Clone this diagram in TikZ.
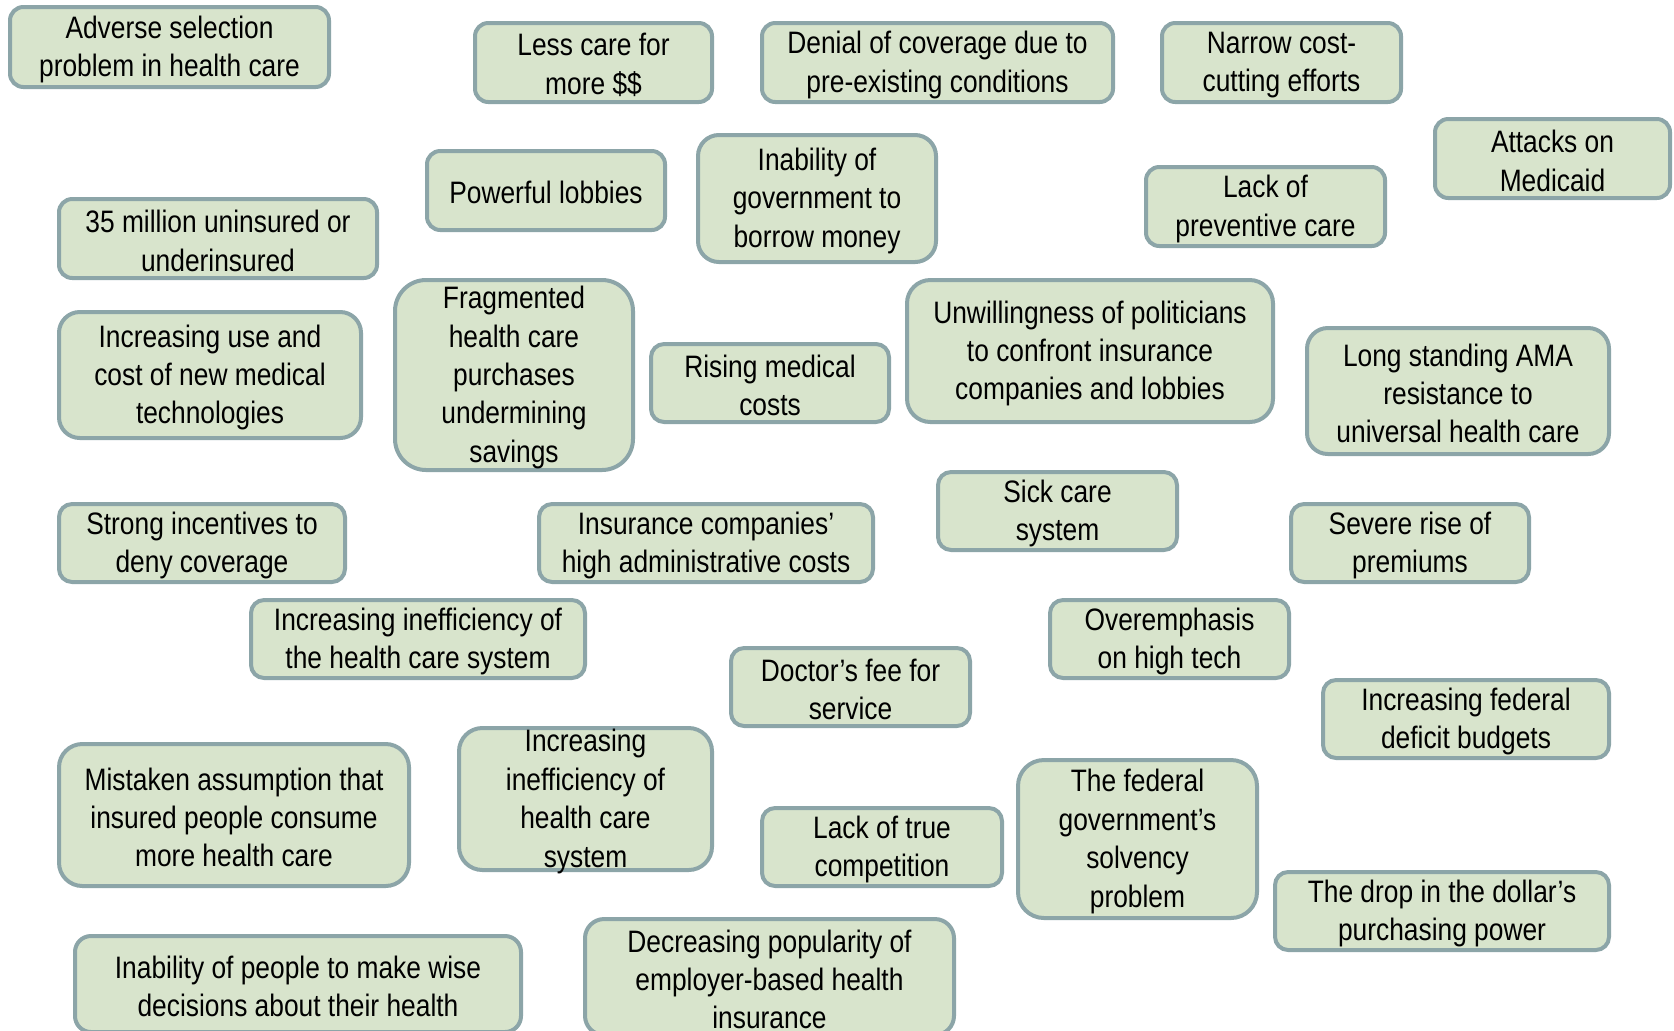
\documentclass[tikz,border=0pt]{standalone}
\usepackage{fontspec}
\setmainfont{Liberation Sans}[FakeStretch=0.85]
\definecolor{boxfill}{RGB}{216,228,204}
\definecolor{boxline}{RGB}{140,165,168}
\tikzset{
  issuebox/.style={draw=boxline, fill=boxfill, line width=2pt, inner sep=0pt},
  issuetext/.style={align=center, inner sep=0pt, text=black,
    font=\fontsize{15.5pt}{19.2pt}\selectfont}
}
% \issue{name}{left}{top}{right}{bottom}{text}  -- outer edges in px
\newcommand\issue[6]{%
  \node[issuebox,
        minimum width={(#4-#2-4)*0.5pt},
        minimum height={(#5-#3-4)*0.5pt},
        rounded corners={0.08*min(#4-#2,#5-#3)*1pt}]
        (#1) at ({(#2+#4)/2},{(#3+#5)/2}) {};
  \node[issuetext, yshift=-1.2pt] (#1-text) at (#1.center) {#6};
}
\begin{document}
\begin{tikzpicture}[x=0.5pt,y=-0.5pt]
  \useasboundingbox (0,0) rectangle (1674,1030);
  \fill[white] (0,0) rectangle (1674,1030);
  \clip (0,0) rectangle (1674,1030);

  \issue{adverse}{8}{5}{331}{89}{Adverse selection\\problem in health care}
  \issue{lesscare}{473}{21}{714}{104}{Less care for\\more \$\$}
  \issue{denial}{760}{21}{1115}{104}{Denial of coverage due to\\pre-existing conditions}
  \issue{narrow}{1160}{21}{1403}{104}{Narrow cost-\\cutting efforts}
  \issue{medicaid}{1433}{117}{1672}{200}{Attacks on\\Medicaid}

  \issue{lobbies}{425}{149}{667}{232}{Powerful lobbies}
  \issue{borrow}{696}{133}{938}{264}{Inability of\\government to\\borrow money}
  \issue{preventive}{1144}{165}{1387}{248}{Lack of\\preventive care}
  \issue{uninsured}{57}{197}{379}{280}{35 million uninsured or\\underinsured}

  \issue{technologies}{57}{310}{363}{440}{Increasing use and\\cost of new medical\\technologies}
  \issue{fragmented}{393}{278}{635}{472}{Fragmented\\health care\\purchases\\undermining\\savings}
  \issue{rising}{649}{342}{891}{424}{Rising medical\\costs}
  \issue{unwilling}{905}{278}{1275}{424}{Unwillingness of politicians\\to confront insurance\\companies and lobbies}
  \issue{ama}{1305}{326}{1611}{456}{Long standing AMA\\resistance to\\universal health care}

  \issue{sickcare}{936}{470}{1179}{552}{Sick care\\system}
  \issue{incentives}{57}{502}{347}{584}{Strong incentives to\\deny coverage}
  \issue{admin}{537}{502}{875}{584}{Insurance companies’\\high administrative costs}
  \issue{premiums}{1289}{502}{1531}{584}{Severe rise of\\premiums}

  \issue{inefficiency}{249}{598}{587}{680}{Increasing inefficiency of\\the health care system}
  \issue{hightech}{1048}{598}{1291}{680}{Overemphasis\\on high tech}
  \issue{feeservice}{729}{646}{972}{728}{Doctor’s fee for\\service}
  \issue{deficit}{1321}{678}{1611}{760}{Increasing federal\\deficit budgets}

  \issue{mistaken}{57}{742}{411}{888}{Mistaken assumption that\\insured people consume\\more health care}
  \issue{inefficiencytwo}{457}{726}{714}{872}{Increasing\\inefficiency of\\health care\\system}
  \issue{competition}{760}{806}{1004}{888}{Lack of true\\competition}
  \issue{solvency}{1016}{758}{1259}{920}{The federal\\government’s\\solvency\\problem}
  \issue{dollar}{1273}{870}{1611}{952}{The drop in the dollar’s\\purchasing power}

  \issue{wise}{73}{934}{523}{1034}{Inability of people to make wise\\decisions about their health}
  \issue{employer}{583}{917}{956}{1037}{Decreasing popularity of\\employer-based health\\insurance}
\end{tikzpicture}
\end{document}
